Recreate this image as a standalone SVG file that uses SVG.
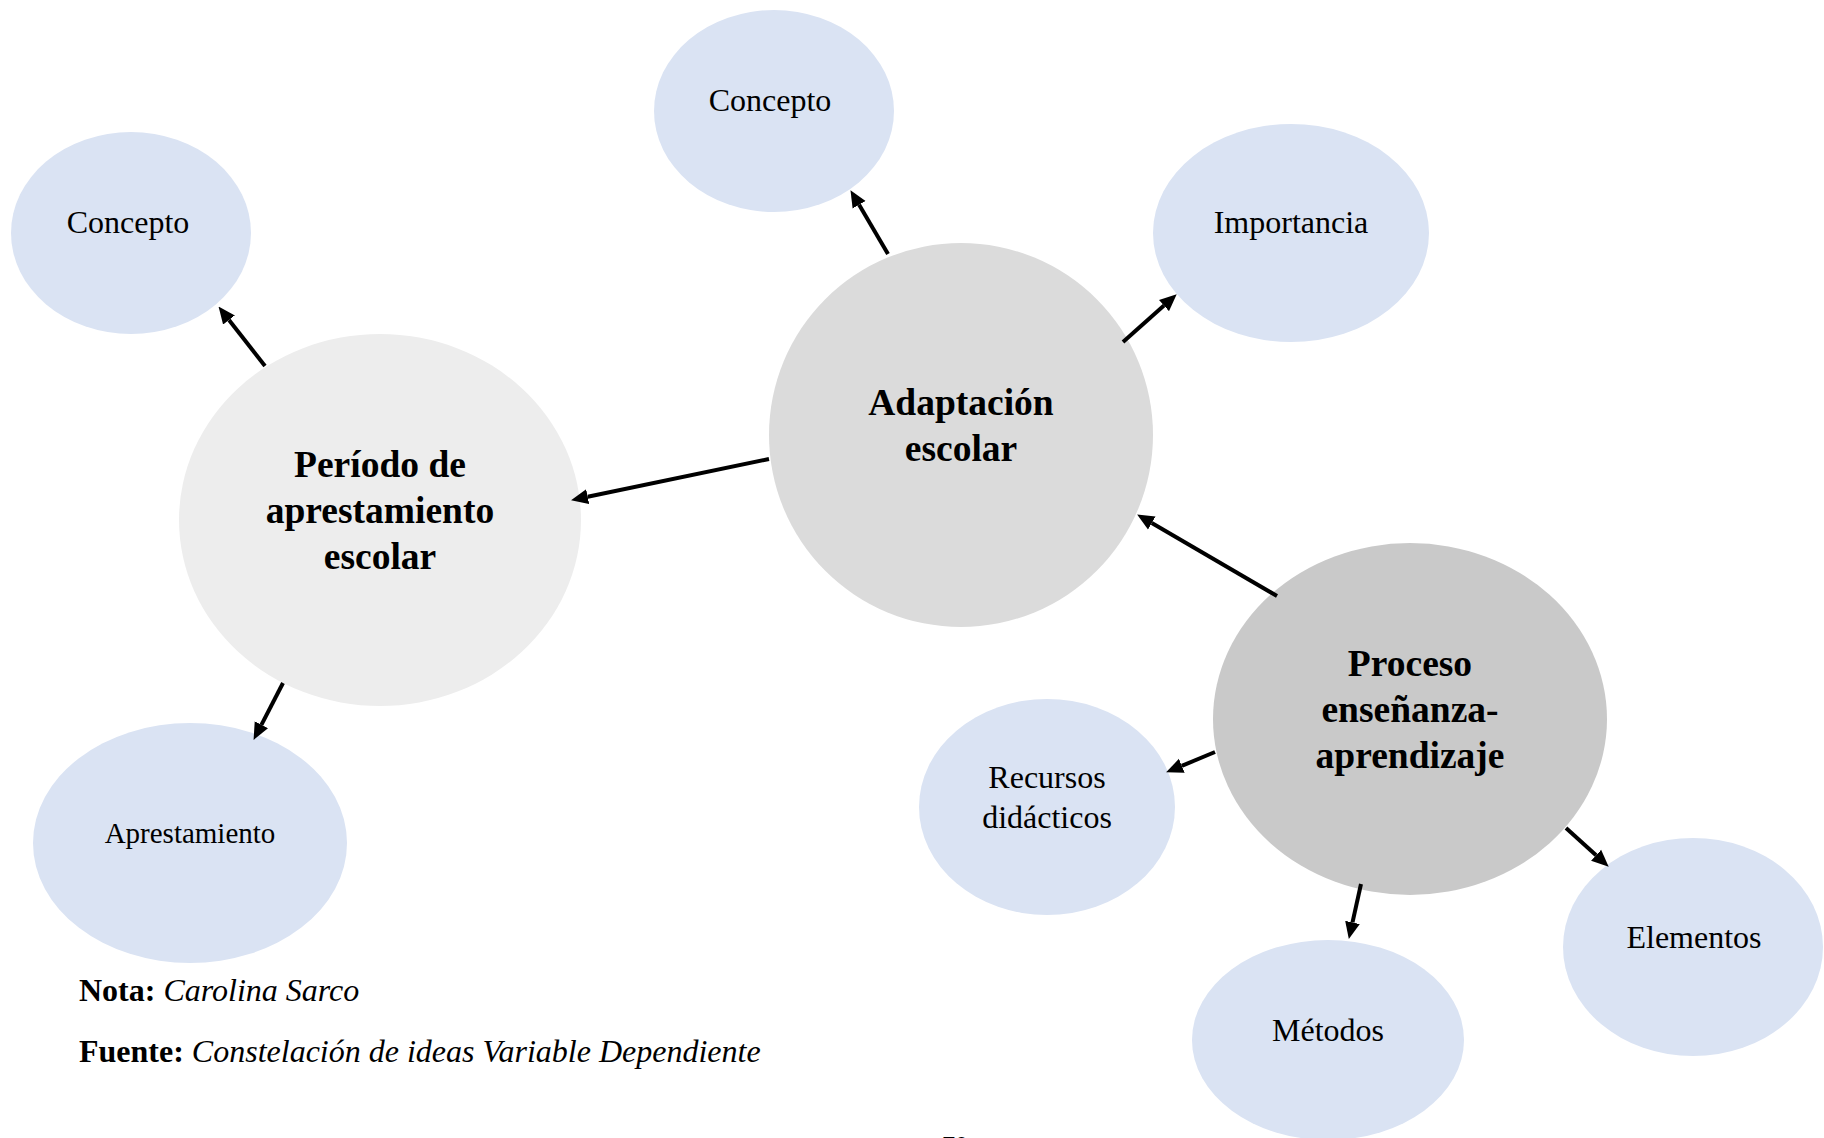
<svg xmlns="http://www.w3.org/2000/svg" width="1824" height="1138" viewBox="0 0 1824 1138">
<style>
.blue{fill:#DAE3F3}
.lbl{font-family:"Liberation Serif","Times New Roman",serif;font-size:32px;fill:#000;text-anchor:middle}
.big{font-family:"Liberation Serif","Times New Roman",serif;font-size:37.5px;font-weight:bold;fill:#000;text-anchor:middle}
.note{font-family:"Liberation Serif","Times New Roman",serif;font-size:32px;fill:#000}
.conn line{stroke:#000;stroke-width:4;marker-end:url(#ah)}
</style>
<defs>
<marker id="ah" markerUnits="userSpaceOnUse" viewBox="0 -8 17 16" refX="0" refY="0" markerWidth="17" markerHeight="16" orient="auto">
<path d="M0,-7.5 L17,0 L0,7.5 z" fill="#000"/>
</marker>
</defs>
<rect width="1824" height="1138" fill="#fff"/>

<g id="concepto-izq"><ellipse class="blue" cx="131" cy="233" rx="120" ry="101"/><text class="lbl" x="128" y="233">Concepto</text></g>
<g id="concepto-sup"><ellipse class="blue" cx="774" cy="111" rx="120" ry="101"/><text class="lbl" x="770" y="111">Concepto</text></g>
<g id="importancia"><ellipse class="blue" cx="1291" cy="233" rx="138" ry="109"/><text class="lbl" x="1291" y="233">Importancia</text></g>
<g id="periodo"><ellipse cx="380" cy="520" rx="201" ry="186" fill="#EDEDED"/><text class="big" x="380" y="477">Período de</text><text class="big" x="380" y="523">aprestamiento</text><text class="big" x="380" y="569">escolar</text></g>
<g id="adaptacion"><ellipse cx="961" cy="435" rx="192" ry="192" fill="#DBDBDB"/><text class="big" x="961" y="415">Adaptación</text><text class="big" x="961" y="461">escolar</text></g>
<g id="proceso"><ellipse cx="1410" cy="719" rx="197" ry="176" fill="#C9C9C9"/><text class="big" x="1410" y="676">Proceso</text><text class="big" x="1410" y="722">enseñanza-</text><text class="big" x="1410" y="768">aprendizaje</text></g>
<g id="aprestamiento"><ellipse class="blue" cx="190" cy="843" rx="157" ry="120"/><text class="lbl" x="190" y="843" style="font-size:29px">Aprestamiento</text></g>
<g id="recursos"><ellipse class="blue" cx="1047" cy="807" rx="128" ry="108"/><text class="lbl" x="1047" y="788">Recursos</text><text class="lbl" x="1047" y="828">didácticos</text></g>
<g id="metodos"><ellipse class="blue" cx="1328" cy="1040" rx="136" ry="100"/><text class="lbl" x="1328" y="1041">Métodos</text></g>
<g id="elementos"><ellipse class="blue" cx="1693" cy="947" rx="130" ry="109"/><text class="lbl" x="1694" y="948">Elementos</text></g>

<g id="connectors" class="conn">
<line x1="265" y1="366" x2="229" y2="320"/>
<line x1="888" y1="254" x2="859.1" y2="204.8"/>
<line x1="1123" y1="342" x2="1164" y2="305.6"/>
<line x1="769" y1="459" x2="587.7" y2="496.7"/>
<line x1="1277" y1="596" x2="1151.8" y2="523.1"/>
<line x1="1215" y1="752" x2="1181.8" y2="765.8"/>
<line x1="283" y1="683" x2="261.4" y2="724.8"/>
<line x1="1361" y1="884" x2="1352.5" y2="922.4"/>
<line x1="1566" y1="828" x2="1596.1" y2="855.3"/>
</g>

<text class="note" x="79" y="1001"><tspan font-weight="bold">Nota:</tspan> <tspan font-style="italic">Carolina Sarco</tspan></text>
<text class="note" x="79" y="1062"><tspan font-weight="bold">Fuente:</tspan> <tspan font-style="italic">Constelación de ideas Variable Dependiente</tspan></text>
<text x="942" y="1154" style="font-family:'Liberation Serif',serif;font-size:26px;font-weight:bold">70</text>
</svg>
